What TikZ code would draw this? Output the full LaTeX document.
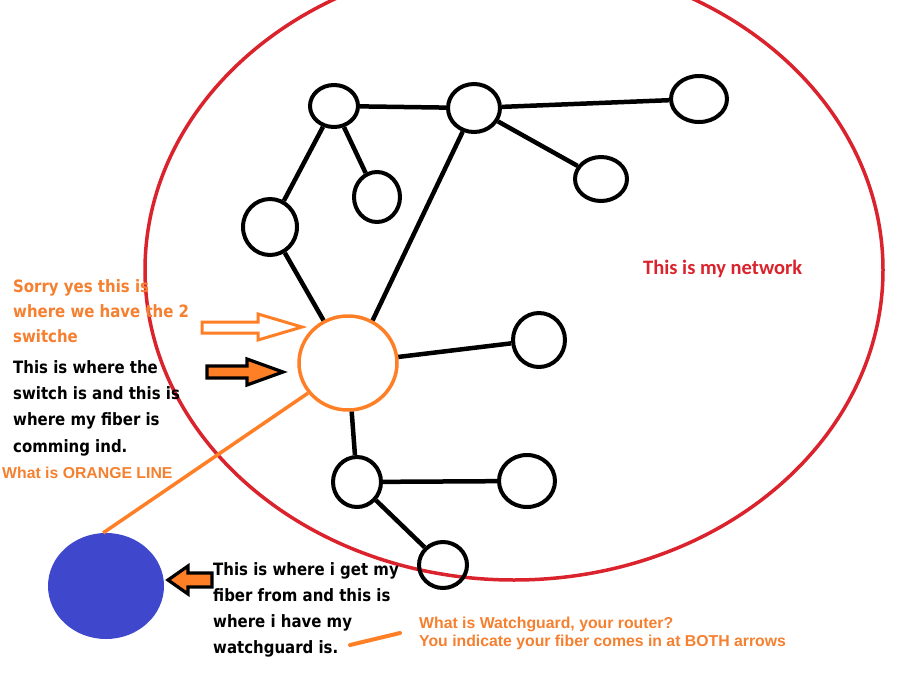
\documentclass[tikz,border=0pt]{standalone}
\usepackage{fontspec}
\usetikzlibrary{shapes.geometric}
\newfontfamily\tahfont{DejaVu Sans}[FakeStretch=0.88]
\newfontfamily\arialfont{Liberation Sans}
\newfontfamily\califont{Carlito}
\definecolor{paintorange}{RGB}{255,127,39}
\definecolor{textorange}{RGB}{245,128,48}
\definecolor{paintred}{RGB}{218,35,44}
\definecolor{paintblue}{RGB}{63,72,204}
\tikzset{
  netnode/.style={draw=black, line width=4pt, ellipse, inner sep=0pt},
  netedge/.style={draw=black, line width=4.5pt},
  tahtxt/.style={anchor=base west, inner sep=0pt, font=\tahfont\bfseries\fontsize{17}{20}\selectfont},
  arialtxt/.style={anchor=base west, inner sep=0pt, font=\arialfont\bfseries\fontsize{15.8}{18}\selectfont, text=textorange},
}
\begin{document}
\begin{tikzpicture}[x=1pt,y=-1pt]
\useasboundingbox (0,0) rectangle (906,675);
\fill[white] (0,0) rectangle (906,675);
\begin{scope}
\clip (0,0) rectangle (906,675);
% network boundary
\draw[paintred, line width=3.5pt] (514,270) ellipse [x radius=369, y radius=310];
\end{scope}
% nodes
\node[netnode, minimum width=48pt, minimum height=42pt] (n1) at (334,106) {};
\node[netnode, minimum width=52pt, minimum height=48pt] (n2) at (474,108) {};
\node[netnode, minimum width=56pt, minimum height=46pt] (n3) at (699,99) {};
\node[netnode, minimum width=46pt, minimum height=50pt] (n4) at (377,197) {};
\node[netnode, minimum width=52pt, minimum height=44pt] (n5) at (601,179) {};
\node[netnode, minimum width=54pt, minimum height=56pt] (n6) at (270,227) {};
\node[draw=paintorange, line width=3.5pt, ellipse, inner sep=0pt, minimum width=98pt, minimum height=94pt] (hub) at (348,363) {};
\node[netnode, minimum width=52pt, minimum height=54pt] (n7) at (539,340) {};
\node[netnode, minimum width=48pt, minimum height=50pt] (n8) at (357,482) {};
\node[netnode, minimum width=56pt, minimum height=52pt] (n9) at (527,481) {};
\node[netnode, minimum width=48pt, minimum height=46pt] (n10) at (443,565) {};
\node[fill=paintblue, ellipse, inner sep=0pt, minimum width=116pt, minimum height=106pt] (blue) at (106,586) {};
% edges
\draw[netedge] (n1) -- (n2);
\draw[netedge] (n2) -- (n3);
\draw[netedge] (n2) -- (n5);
\draw[netedge] (n1) -- (n4);
\draw[netedge] (n1) -- (n6);
\draw[netedge] (n6) -- (hub);
\draw[netedge] (n2) -- (hub.60);
\draw[netedge] (hub) -- (n7);
\draw[netedge] (hub) -- (n8);
\draw[netedge] (n8) -- (n9);
\draw[netedge] (n8) -- (n10);
\draw[paintorange, line width=3.5pt] (hub.217) -- (blue.93);
% arrows
\draw[paintorange, fill=white, line width=3pt, line join=miter]
  (202,322) -- (258,322) -- (258,314) -- (302,327) -- (258,340) -- (258,333) -- (202,333) -- cycle;
\draw[black, fill=paintorange, line width=3.2pt, line join=miter]
  (207,366) -- (247,366) -- (247,359) -- (283,372) -- (247,385) -- (247,378) -- (207,378) -- cycle;
\draw[black, fill=paintorange, line width=3.2pt, line join=miter]
  (212,573) -- (188,573) -- (188,566) -- (168,580) -- (188,594) -- (188,587) -- (212,587) -- cycle;
% short orange stroke
\coordinate (s1) at (350,645);
\coordinate (s2) at (400,633);
\draw[paintorange, line width=4pt, line cap=round] (s1) -- (s2);
% texts
\node[tahtxt, text=textorange] (ta1) at (13,292) {Sorry yes this is};
\node[tahtxt, text=textorange] (ta2) at (13,317) {where we have the 2};
\node[tahtxt, text=textorange] (ta3) at (13,342) {switche};
\node[tahtxt] (tb1) at (13,373) {This is where the};
\node[tahtxt] (tb2) at (13,399) {switch is and this is};
\node[tahtxt] (tb3) at (13,425) {where my fiber is};
\node[tahtxt] (tb4) at (13,452) {comming ind.};
\node[arialtxt] (tc1) at (2,478) {What is ORANGE LINE};
\node[tahtxt] (td1) at (213,575) {This is where i get my};
\node[tahtxt] (td2) at (213,601) {fiber from and this is};
\node[tahtxt] (td3) at (213,627) {where i have my};
\node[tahtxt] (td4) at (213,653) {watchguard is.};
\node[arialtxt] (te1) at (419,628) {What is Watchguard, your router?};
\node[arialtxt] (te2) at (419,646) {You indicate your fiber comes in at BOTH arrows};
\node[anchor=base west, inner sep=0pt, font=\califont\bfseries\fontsize{20.5}{24}\selectfont, text=paintred] (tf) at (643,274) {This is my network};
\end{tikzpicture}
\end{document}
